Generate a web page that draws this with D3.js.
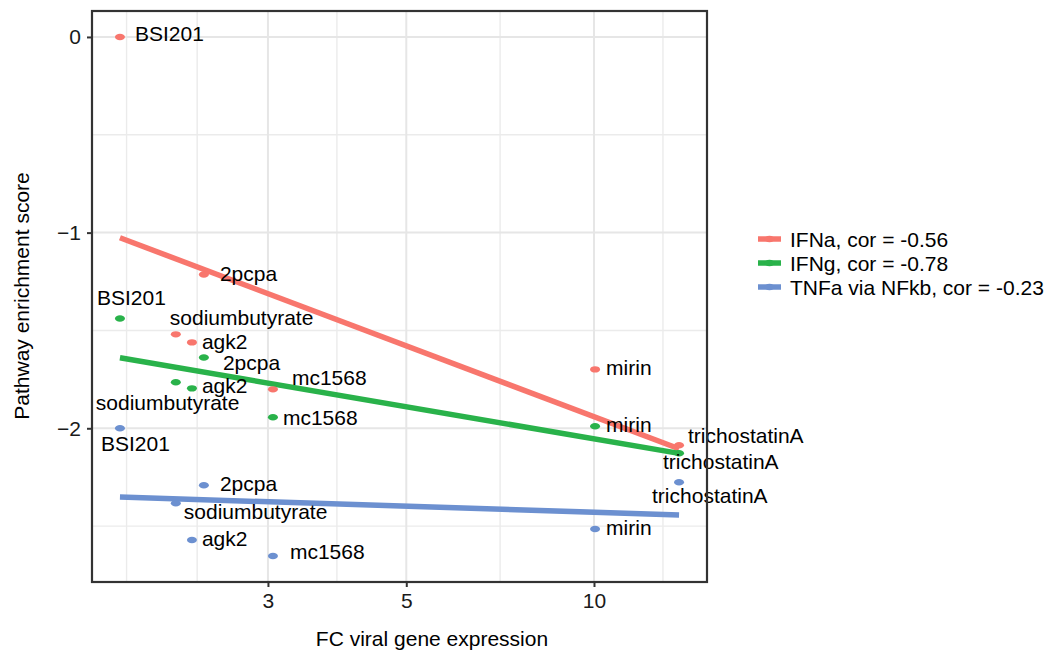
<!DOCTYPE html>
<html><head><meta charset="utf-8">
<script src="https://cdn.jsdelivr.net/npm/d3@7"></script>
<style>body{margin:0;background:#fff;} text{font-family:"Liberation Sans",Arial,sans-serif;}</style>
</head><body><svg id="c" width="1046" height="651"></svg>
<script>
const drugs = ["BSI201","2pcpa","sodiumbutyrate","agk2","mc1568","mirin","trichostatinA"];
const fcViral = [1.737, 2.368, 2.135, 2.266, 3.056, 10.04, 13.69];
const ifna = [0, -1.214, -1.520, -1.561, -1.801, -1.699, -2.087];
const ifng = [-1.439, -1.638, -1.765, -1.796, -1.944, -1.990, -2.128];
const tnfa = [-2.0, -2.291, -2.383, -2.571, -2.653, -2.515, -2.276];
const seriesNames = ["IFNa, cor = -0.56", "IFNg, cor = -0.78", "TNFa via NFkb, cor = -0.23"];
const xTicks = [3, 5, 10];
const xMinor = [1.78, 2.31, 3.87, 7.07, 12.9];
const yTicks = [0, -1, -2];
const yMinor = [-0.5, -1.5, -2.5];

// label offsets (px), per series, same order as drugs
const offA = [[15,-3],[16,-1],[-6,-17],[10,-1],[19,-12],[11,-2],[9,-10]];
const offG = [[-23,-21],[19,5],[-80,20],[10,-3],[10,0],[11,-2],[-16,8]];
const offT = [[-19,15],[16,-2],[8,8],[10,-2],[17,-5],[11,-2],[-27,13]];

const colors = ["#F8766D", "#29B24A", "#6C90D0"];
const seriesVals = [ifna, ifng, tnfa];
const offsets = [offA, offG, offT];
const FS = 21;

const svg = d3.select("#c");
const L = 92, R = 707, T = 11, B = 582;

const lx = fcViral.map(Math.log10);
const lxmin = d3.min(lx), lxmax = d3.max(lx), lxs = lxmax - lxmin;
const x = d3.scaleLog().domain([10**(lxmin - 0.05*lxs), 10**(lxmax + 0.05*lxs)]).range([L, R]);
const allY = [].concat(ifna, ifng, tnfa);
const ymin = d3.min(allY), ymax = d3.max(allY), ys = ymax - ymin;
const y = d3.scaleLinear().domain([ymin - 0.05*ys, ymax + 0.05*ys]).range([B, T]);

const g = svg.append("g");
// grid
g.selectAll(".ym").data(yMinor).enter().append("line")
  .attr("x1", L).attr("x2", R).attr("y1", d=>y(d)).attr("y2", d=>y(d))
  .attr("stroke", "#ebebeb").attr("stroke-width", 1.4);
g.selectAll(".xm").data(xMinor).enter().append("line")
  .attr("y1", T).attr("y2", B).attr("x1", d=>x(d)).attr("x2", d=>x(d))
  .attr("stroke", "#ebebeb").attr("stroke-width", 1.4);
g.selectAll(".yM").data(yTicks).enter().append("line")
  .attr("x1", L).attr("x2", R).attr("y1", d=>y(d)).attr("y2", d=>y(d))
  .attr("stroke", "#e6e6e6").attr("stroke-width", 2);
g.selectAll(".xM").data(xTicks).enter().append("line")
  .attr("y1", T).attr("y2", B).attr("x1", d=>x(d)).attr("x2", d=>x(d))
  .attr("stroke", "#e6e6e6").attr("stroke-width", 2);

// regression lines (lm of y on log10 x)
function fit(vals){
  const mx = d3.mean(lx), my = d3.mean(vals);
  let sxy=0, sxx=0;
  lx.forEach((v,i)=>{ sxy += (v-mx)*(vals[i]-my); sxx += (v-mx)*(v-mx); });
  const b = sxy/sxx, a = my - b*mx;
  return [[lxmin, a+b*lxmin],[lxmax, a+b*lxmax]];
}
seriesVals.forEach((vals, si)=>{
  const f = fit(vals);
  g.append("line")
    .attr("x1", x(10**f[0][0])).attr("y1", y(f[0][1]))
    .attr("x2", x(10**f[1][0])).attr("y2", y(f[1][1]))
    .attr("stroke", colors[si]).attr("stroke-width", 5.5);
});

// points and labels
seriesVals.forEach((vals, si)=>{
  g.selectAll(".p"+si).data(vals).enter().append("ellipse")
    .attr("cx", (d,i)=>x(fcViral[i])).attr("cy", d=>y(d))
    .attr("rx", 5).attr("ry", 3.2).attr("fill", colors[si]);
  g.selectAll(".t"+si).data(vals).enter().append("text")
    .attr("x", (d,i)=>x(fcViral[i]) + offsets[si][i][0])
    .attr("y", (d,i)=>y(d) + offsets[si][i][1])
    .attr("dominant-baseline", "central")
    .attr("font-size", FS).attr("fill", "#000")
    .text((d,i)=>drugs[i]);
});

// panel border
g.append("rect").attr("x", L).attr("y", T).attr("width", R-L).attr("height", B-T)
  .attr("fill", "none").attr("stroke", "#333").attr("stroke-width", 2.2);

// axes
const xa = svg.append("g").attr("transform", `translate(0,${B})`)
  .call(d3.axisBottom(x).tickValues(xTicks).tickFormat(d3.format("d")).tickSize(5).tickPadding(6));
xa.select(".domain").remove();
xa.selectAll("line").attr("stroke", "#333").attr("stroke-width", 2);
xa.selectAll("text").attr("font-size", FS).attr("fill", "#1a1a1a").attr("font-family", "Liberation Sans, Arial, sans-serif");

const ya = svg.append("g").attr("transform", `translate(${L},0)`)
  .call(d3.axisLeft(y).tickValues(yTicks).tickFormat(d => d === 0 ? "0" : "\u2212" + Math.abs(d)).tickSize(5).tickPadding(6));
ya.select(".domain").remove();
ya.selectAll("line").attr("stroke", "#333").attr("stroke-width", 2);
ya.selectAll("text").attr("font-size", FS).attr("fill", "#1a1a1a").attr("font-family", "Liberation Sans, Arial, sans-serif");

// axis titles
svg.append("text").attr("x", 432).attr("y", 638).attr("text-anchor", "middle")
  .attr("font-size", FS).attr("fill", "#000").attr("dominant-baseline", "central").text("FC viral gene expression");
svg.append("text").attr("transform", "translate(21,296) rotate(-90)").attr("text-anchor", "middle")
  .attr("font-size", FS).attr("fill", "#000").attr("dominant-baseline", "central").text("Pathway enrichment score");

// legend
const lg = svg.append("g");
seriesNames.forEach((name, i)=>{
  const cy = 239 + i*24;
  lg.append("line").attr("x1", 758).attr("x2", 781).attr("y1", cy).attr("y2", cy)
    .attr("stroke", colors[i]).attr("stroke-width", 5.5);
  lg.append("ellipse").attr("cx", 769.5).attr("cy", cy).attr("rx", 5).attr("ry", 3.2).attr("fill", colors[i]);
  lg.append("text").attr("x", 790).attr("y", cy).attr("dominant-baseline", "central")
    .attr("font-size", FS).attr("fill", "#000").text(name);
});
</script></body></html>
